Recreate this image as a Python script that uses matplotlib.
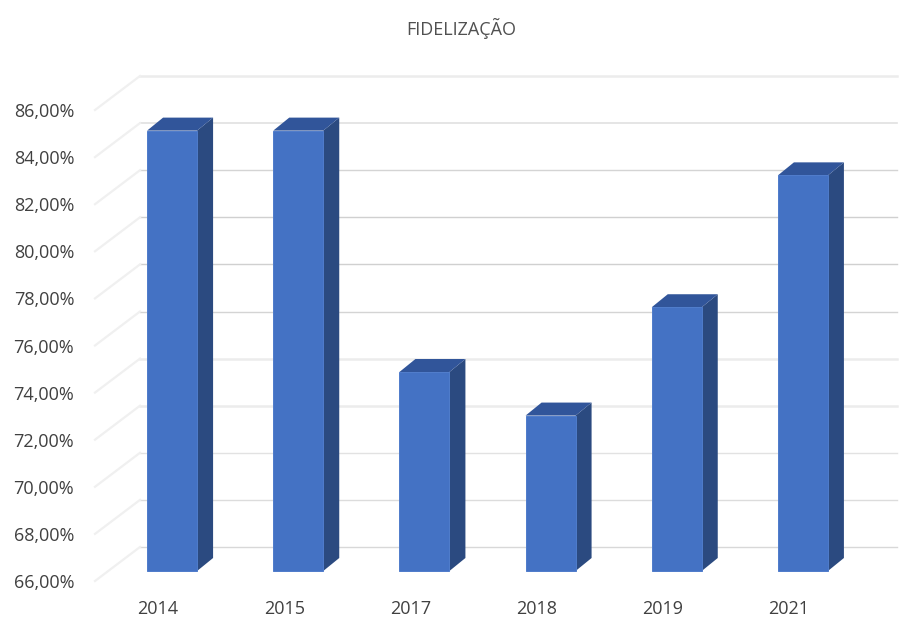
import numpy as np
import matplotlib
matplotlib.use('Agg')
import matplotlib.pyplot as plt
from matplotlib.patches import Polygon

plt.rcParams['font.family'] = ['Open Sans', 'DejaVu Sans']

anos = ['2014', '2015', '2017', '2018', '2019', '2021']
fidelizacao = [84.7, 84.7, 74.45, 72.6, 77.2, 82.8]
niveis = [66, 68, 70, 72, 74, 76, 78, 80, 82, 84, 86]
rotulos = ['66,00%', '68,00%', '70,00%', '72,00%', '74,00%', '76,00%',
           '78,00%', '80,00%', '82,00%', '84,00%', '86,00%']
# cor das linhas de grade, de baixo para cima
cor_grade = ['#d8d8d8', '#dcdcdc', '#e2e2e2', '#ececec', '#ececec', '#d4d4d4',
             '#d0d0d0', '#d0d0d0', '#d4d4d4', '#e0e0e0', '#ececec']
esp_grade = [1.0, 1.0, 1.0, 1.8, 1.8, 1.0, 1.0, 1.0, 1.0, 1.2, 1.8]

fig = plt.figure(figsize=(9.22, 6.36), dpi=100)
# plano da frente do "3D" falso
ax = fig.add_axes([95/922, 1-581/636, 757/922, 471/636])
ax.set_xlim(-0.5, 5.5)
ax.set_ylim(66, 86)
for s in ax.spines.values():
    s.set_visible(False)

px_x = 6/757
px_y = 20/471
fundo_x, fundo_y = 45*px_x, 34*px_y
larg = 50*px_x
desl_x, desl_y = 14*px_x, 10*px_y    # frente da barra
prof_x, prof_y = 16*px_x, 13*px_y    # profundidade da barra

for n, c, e in zip(niveis, cor_grade, esp_grade):
    ax.plot([-0.5+fundo_x, 5.5+fundo_x], [n+fundo_y, n+fundo_y], color=c, lw=e, clip_on=False, zorder=1)
    ax.plot([-0.5, -0.5+fundo_x], [n, n+fundo_y], color='#f0f0f0', lw=1.6, clip_on=False, zorder=1)

x = np.arange(len(anos))
for i, v in zip(x, fidelizacao):
    x0 = i - larg/2 + desl_x
    x1 = i + larg/2 + desl_x
    y0 = 66 + desl_y
    y1 = v + desl_y
    # lateral e topo
    ax.add_patch(Polygon([(x1, y0), (x1+prof_x, y0+prof_y), (x1+prof_x, y1+prof_y), (x1, y1)],
                         fc='#2b4a80', ec='none', clip_on=False, zorder=3))
    ax.add_patch(Polygon([(x0, y1), (x0+prof_x, y1+prof_y), (x1+prof_x, y1+prof_y), (x1, y1)],
                         fc='#31559a', ec='none', clip_on=False, zorder=3))
ax.bar(x + desl_x, np.array(fidelizacao) - 66, bottom=66 + desl_y, width=larg,
       color='#4472c4', edgecolor='#4f7ccb', linewidth=0.7, clip_on=False, zorder=4)

ax.set_xticks(x)
ax.set_xticklabels(anos)
ax.set_yticks(niveis)
ax.set_yticklabels(rotulos)
ax.tick_params(axis='x', length=0, pad=14, labelsize=13, labelcolor='#404040')
ax.tick_params(axis='y', length=0, pad=15, labelsize=13, labelcolor='#404040')

fig.text(461/922, 1-28/636, 'FIDELIZAÇÃO', ha='center', va='center', fontsize=13, color='#505050')

fig.savefig('out.png', dpi=100)
